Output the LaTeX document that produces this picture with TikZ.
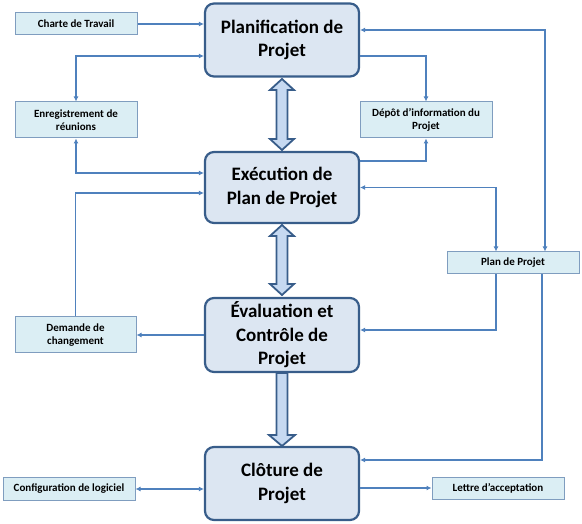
\documentclass[tikz,border=0pt]{standalone}
\usepackage{fontspec}
\setmainfont{Carlito}
\usetikzlibrary{arrows.meta,calc}
\definecolor{mainfill}{HTML}{DCE6F2}
\definecolor{mainborder}{HTML}{385D8A}
\definecolor{smallfill}{HTML}{DBEEF4}
\definecolor{smallborder}{HTML}{7F9DBF}
\definecolor{linkcol}{HTML}{4F81BD}
\definecolor{bigfill}{HTML}{C6D9F1}
\tikzset{
  mainbox/.style={draw=mainborder, fill=mainfill, line width=2.2pt, rounded corners=9pt,
    minimum width=154pt, minimum height=73pt, align=center, inner sep=2pt,
    font=\fontsize{19}{23.5}\selectfont\bfseries},
  smallbox/.style={draw=smallborder, fill=smallfill, line width=1pt,
    align=center, inner sep=1pt, font=\fontsize{11}{13.5}\selectfont\bfseries},
  link/.style={draw=linkcol, line width=1.2pt, -{Latex[length=5pt,width=5pt]}},
  dlink/.style={draw=linkcol, line width=1.2pt, {Latex[length=5pt,width=5pt]}-{Latex[length=5pt,width=5pt]}},
  bigarrow/.style={draw=mainborder, fill=bigfill, line width=1.8pt, line join=miter}
}
\begin{document}
\begin{tikzpicture}[x=1pt,y=-1pt]
\useasboundingbox (0,0) rectangle (582,524);
% main boxes
\node[mainbox] (pl) at (282,40) {Planification de\\Projet};
\node[mainbox, minimum height=71pt] (ex) at (282,187.5) {Exécution de\\Plan de Projet};
\node[mainbox, minimum height=74pt] (ev) at (282,335) {Évaluation et\\Contrôle de\\Projet};
\node[mainbox] (cl) at (282,483.5) {Clôture de\\Projet};
% small boxes
\node[smallbox, minimum width=122pt, minimum height=22pt] (ch) at (76,24) {Charte de Travail};
\node[smallbox, minimum width=122pt, minimum height=36pt] (enr) at (76,120) {Enregistrement de\\réunions};
\node[smallbox, minimum width=132pt, minimum height=36pt] (dep) at (426,120) {Dépôt d’information du\\Projet};
\node[smallbox, minimum width=132pt, minimum height=22pt] (pp) at (513,263) {Plan de Projet};
\node[smallbox, minimum width=121pt, minimum height=36pt] (dem) at (75.5,335) {Demande de\\changement};
\node[smallbox, minimum width=132pt, minimum height=23pt] (cfg) at (69,489) {Configuration de logiciel};
\node[smallbox, minimum width=132pt, minimum height=22pt] (let) at (498,488) {Lettre d’acceptation};
% big arrows
\draw[bigarrow] (282,79) -- (294,90) -- (287.5,90) -- (287.5,139) -- (294,139) -- (282,150)
  -- (270,139) -- (276.5,139) -- (276.5,90) -- (270,90) -- cycle;
\draw[bigarrow] (282,225) -- (294,236) -- (287.5,236) -- (287.5,284) -- (294,284) -- (282,295)
  -- (270,284) -- (276.5,284) -- (276.5,236) -- (270,236) -- cycle;
\draw[bigarrow] (276.5,373) -- (287.5,373) -- (287.5,435) -- (295,435) -- (282,446)
  -- (269,435) -- (276.5,435) -- cycle;
% connectors
\draw[link] (ch.east) -- (ch.east -| pl.west);
\draw[dlink] ([yshift=-16pt]pl.west) -| (enr.north);
\draw[dlink] (enr.south) |- ([yshift=14.5pt]ex.west);
\draw[link] (dem.north) |- ([yshift=-5.5pt]ex.west);
\draw[link] (ev.west) -- (dem.east);
\draw[link] ([yshift=-16pt]pl.east) -| (dep.north);
\draw[link] ([yshift=26.5pt]ex.east) -| (dep.south);
\draw[dlink] ([xshift=32pt]pp.north) |- ([yshift=10pt]pl.east);
\draw[dlink] (ex.east) -| ([xshift=-17pt]pp.north);
\draw[link] ([xshift=-17pt]pp.south) |- ([yshift=5pt]ev.east);
\draw[link] ([xshift=29pt]pp.south) |- ([yshift=23.5pt]cl.east);
\draw[dlink] (cfg.east) -- (cfg.east -| cl.west);
\draw[link] (let.west -| cl.east) -- (let.west);
\end{tikzpicture}
\end{document}
